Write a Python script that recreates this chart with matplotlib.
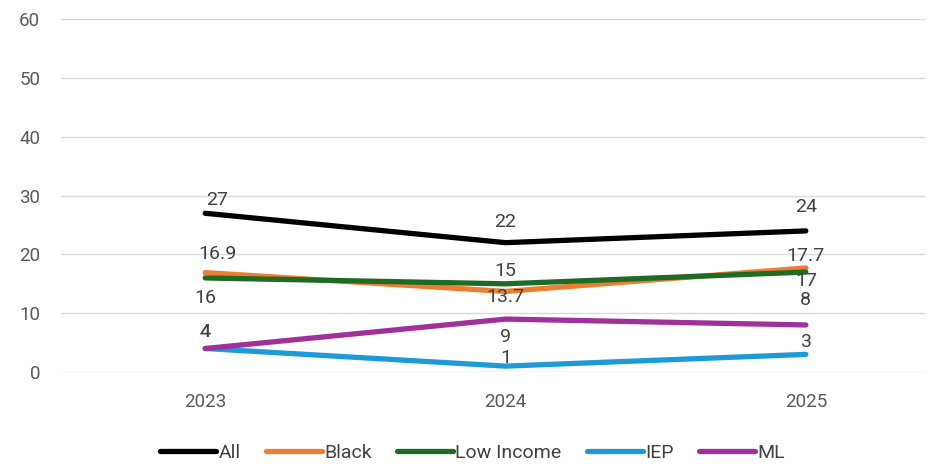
import matplotlib.pyplot as plt

plt.rcParams['font.family'] = ['Roboto', 'DejaVu Sans']

years = ["2023", "2024", "2025"]
all_vals = [27, 22, 24]
black_vals = [16.9, 13.7, 17.7]
low_income_vals = [16, 15, 17]
iep_vals = [4, 1, 3]
ml_vals = [4, 9, 8]

series = [
    ("All", all_vals, "#000000"),
    ("Black", black_vals, "#ED7D31"),
    ("Low Income", low_income_vals, "#1E6B24"),
    ("IEP", iep_vals, "#1E9BD7"),
    ("ML", ml_vals, "#A0309A"),
]

# label offsets in pixels (dx, dy) per series per point
offsets = {
    "All": [(12, 13), (0, 21), (0, 24)],
    "Black": [(12, 19), (0, -6), (0, 12)],
    "Low Income": [(0, -20), (0, 13), (0, -9)],
    "IEP": [(0, 16), (0, 8), (0, 12)],
    "ML": [(0, 16), (0, -18), (0, 25)],
}

fig = plt.figure(figsize=(9.32, 4.66), dpi=100)
ax = fig.add_axes([0.0655, 0.2017, 0.928, 0.757])

x = list(range(len(years)))
for name, vals, col in series:
    ax.plot(x, vals, color=col, lw=3.8, label=name, solid_capstyle="round")
for name, vals, col in series:
    for i, v in enumerate(vals):
        dx, dy = offsets[name][i]
        ax.annotate(str(v), (i, v), xytext=(dx * 0.72, dy * 0.72),
                    textcoords="offset points", ha="center", va="center",
                    fontsize=14, color="#404040")

ax.set_ylim(0, 60)
ax.set_xlim(-0.48, 2.4)
ax.set_yticks(range(0, 61, 10))
ax.set_xticks(x)
ax.set_xticklabels(years)
ax.grid(axis="y", color="#d9d9d9", lw=1)
ax.set_axisbelow(True)
for s in ax.spines.values():
    s.set_visible(False)
ax.tick_params(length=0, labelsize=13.5, colors="#595959")
ax.tick_params(axis="y", pad=15)
ax.tick_params(axis="x", pad=15)

leg = fig.legend(loc="center", bbox_to_anchor=(0.507, 0.028), ncol=5,
                 frameon=False, fontsize=14, handlelength=2.9, handletextpad=0.1,
                 columnspacing=1.3)
for t in leg.get_texts():
    t.set_color("#404040")

fig.savefig("out.png", dpi=100)
